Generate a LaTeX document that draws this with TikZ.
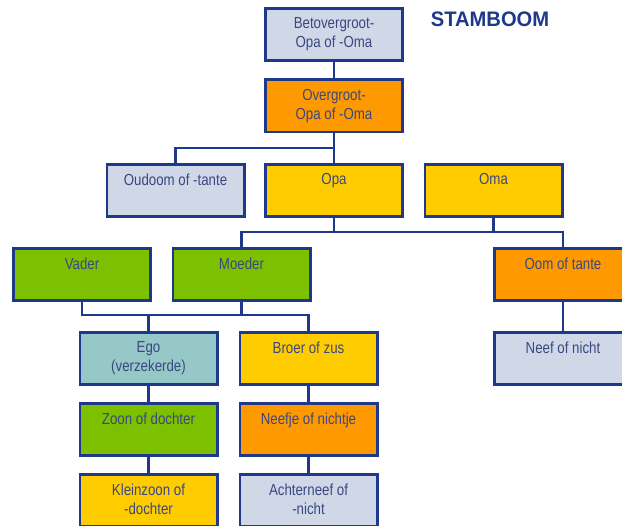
\documentclass[tikz,border=0pt]{standalone}
\usepackage{fontspec}
\setmainfont[FakeStretch=0.83]{Liberation Sans}
\newfontfamily\titlefont[FakeStretch=0.96]{Liberation Sans}
\definecolor{bord}{RGB}{30,56,140}
\definecolor{txtc}{RGB}{58,72,128}
\definecolor{cLight}{RGB}{208,216,232}
\definecolor{cOrange}{RGB}{255,153,0}
\definecolor{cYellow}{RGB}{255,204,0}
\definecolor{cGreen}{RGB}{124,192,0}
\definecolor{cTeal}{RGB}{150,200,200}
\begin{document}
\begin{tikzpicture}[x=1pt,y=-1pt,
  box/.style={draw=bord, line width=2.8pt, minimum width=137.2pt, minimum height=52.2pt, inner sep=0pt},
  lbl/.style={anchor=north, align=center, text=txtc, font=\fontsize{16}{19}\selectfont, inner sep=0pt, yshift=-10.5pt},
  conn/.style={draw=bord, line width=2.8pt},
  titlestyle/.style={anchor=base, text=bord, inner sep=0pt, font=\titlefont\bfseries\fontsize{21}{25}\selectfont}]
\useasboundingbox (0,0) rectangle (622,526);
\clip (0,0) rectangle (622,526);

% boxes
\node[box, fill=cLight]  (bet)    at (334,34.5)  {};
\node[box, fill=cOrange] (over)   at (334,106)   {};
\node[box, fill=cLight]  (oud)    at (175.5,190.5) {};
\node[box, fill=cYellow] (opa)    at (334,190.5) {};
\node[box, fill=cYellow] (oma)    at (493.5,190.5) {};
\node[box, fill=cGreen]  (vader)  at (82,274.5)  {};
\node[box, fill=cGreen]  (moeder) at (241.5,274.5) {};
\node[box, fill=cOrange] (oom)    at (563,274.5) {};
\node[box, fill=cTeal]   (ego)    at (148.5,358.5) {};
\node[box, fill=cYellow] (broer)  at (308.5,358.5) {};
\node[box, fill=cLight]  (neef)   at (563,358.5) {};
\node[box, fill=cGreen]  (zoon)   at (148.5,429.5) {};
\node[box, fill=cOrange] (neefje) at (308.5,429.5) {};
\node[box, fill=cYellow] (klein)  at (148.5,500.5) {};
\node[box, fill=cLight]  (achter) at (308.5,500.5) {};

% labels
\node[lbl] (tbet)    at (bet.north)    {Betovergroot-\\Opa of -Oma};
\node[lbl] (tover)   at (over.north)   {Overgroot-\\Opa of -Oma};
\node[lbl] (toud)    at (oud.north)    {Oudoom of -tante};
\node[lbl] (topa)    at (opa.north)    {Opa};
\node[lbl] (toma)    at (oma.north)    {Oma};
\node[lbl] (tvader)  at (vader.north)  {Vader};
\node[lbl] (tmoeder) at (moeder.north) {Moeder};
\node[lbl] (toom)    at (oom.north)    {Oom of tante};
\node[lbl] (tego)    at (ego.north)    {Ego\\(verzekerde)};
\node[lbl] (tbroer)  at (broer.north)  {Broer of zus};
\node[lbl] (tneef)   at (neef.north)   {Neef of nicht};
\node[lbl] (tzoon)   at (zoon.north)   {Zoon of dochter};
\node[lbl] (tneefje) at (neefje.north) {Neefje of nichtje};
\node[lbl] (tklein)  at (klein.north)  {Kleinzoon of\\-dochter};
\node[lbl] (tachter) at (achter.north) {Achterneef of\\-nicht};

\node[titlestyle] (title) at (490,27) {STAMBOOM};

% connectors
\coordinate (j1) at (334,148);
\coordinate (j2) at (0,232);
\coordinate (j3) at (0,315);
\draw[conn] (bet.south) -- (over.north);
\draw[conn] (over.south) -- (opa.north);
\draw[conn] (oud.north) |- (j1);
\draw[conn] (moeder.north) |- (oom.north |- j2) -- (oom.north);
\draw[conn] (opa.south) -- (opa.south |- j2);
\draw[conn] (oma.south) -- (oma.south |- j2);
\draw[conn] (vader.south) |- (broer.north |- j3) -- (broer.north);
\draw[conn] (moeder.south) -- (moeder.south |- j3);
\draw[conn] (ego.north) -- (ego.north |- j3);
\draw[conn] (ego.south) -- (zoon.north);
\draw[conn] (zoon.south) -- (klein.north);
\draw[conn] (broer.south) -- (neefje.north);
\draw[conn] (neefje.south) -- (achter.north);
\draw[conn] (oom.south) -- (neef.north);
\end{tikzpicture}
\end{document}
